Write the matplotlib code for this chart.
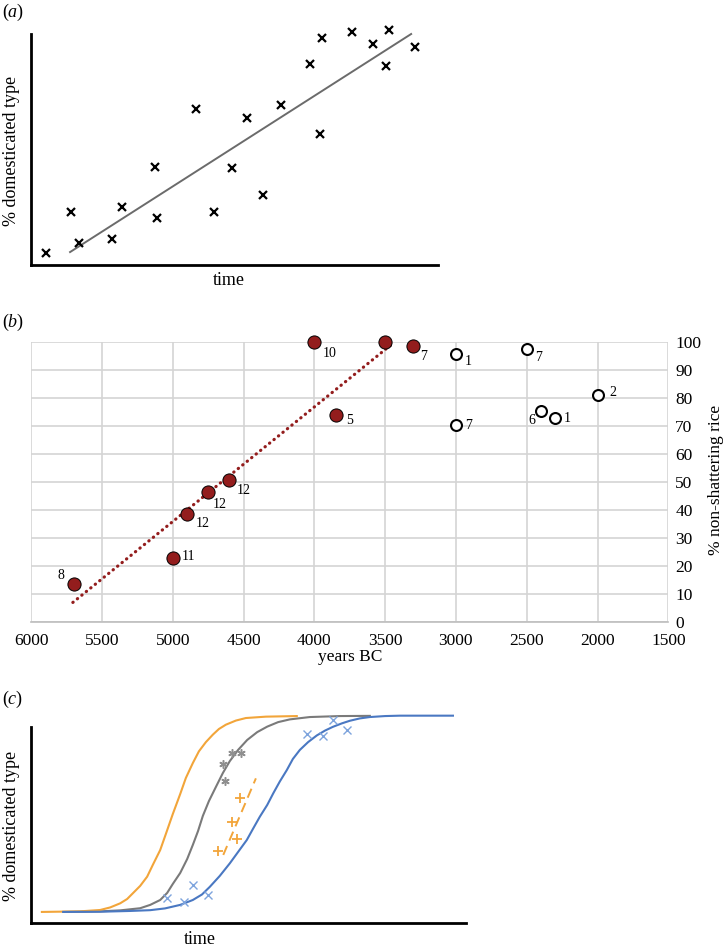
import matplotlib.pyplot as plt

plt.rcParams['font.family'] = ['Liberation Serif', 'DejaVu Serif']
plt.rcParams['mathtext.fontset'] = 'custom'
plt.rcParams['mathtext.it'] = 'Liberation Serif:italic'
plt.rcParams['mathtext.rm'] = 'Liberation Serif'

# ---- panel (a): schematic scatter with a linear trend ----
a_x = [3.7, 9.8, 11.8, 19.9, 22.4, 30.5, 31.0, 40.5, 45.0, 49.4, 53.1,
       57.0, 61.4, 68.6, 71.0, 71.5, 78.9, 84.0, 87.2, 88.0, 94.3]
a_y = [5.2, 23.0, 9.5, 11.3, 25.1, 42.4, 20.3, 67.5, 22.9, 42.0, 63.6,
       30.3, 69.3, 87.0, 56.7, 98.3, 100.9, 95.7, 86.1, 101.7, 94.4]
a_trend_x = [9.6, 93.4]
a_trend_y = [5.6, 100.0]

# ---- panel (b): non-shattering rice by date ----
years_filled = [5700, 5000, 4900, 4750, 4600, 4000, 3850, 3500, 3300]
pct_filled = [13.6, 22.9, 38.6, 46.5, 50.6, 100.0, 74.0, 100.0, 98.7]
labels_filled = ['8', '11', '12', '12', '12', '10', '5', '', '7']
years_open = [3000, 3000, 2500, 2400, 2300, 2000]
pct_open = [95.9, 70.6, 97.7, 75.6, 73.0, 81.3]
labels_open = ['1', '7', '7', '6', '1', '2']
b_trend_x = [5705, 3436]
b_trend_y = [7.0, 100.0]
b_xticks = [6000, 5500, 5000, 4500, 4000, 3500, 3000, 2500, 2000, 1500]
b_yticks = [0, 10, 20, 30, 40, 50, 60, 70, 80, 90, 100]
# label offsets in pixels (right, down)
off_filled = [(-13, -8), (16, -1), (16, 9), (12, 13), (14, 10), (15, 11),
              (14, 5), (0, 0), (10, 11)]
off_open = [(12, 8), (13, 1), (12, 9), (-9, 10), (12, 1), (15, -2)]

# ---- panel (c): sigmoid domestication curves ----
orange_x = [2.5, 11.3, 15.9, 18.2, 20.5, 22.1, 23.4, 25.1, 26.7, 28.0, 29.7,
            31.0, 32.6, 34.3, 35.6, 37.2, 38.6, 40.2, 41.8, 43.2, 44.8, 47.1,
            49.4, 54.0, 61.1]
orange_y = [0, 0.3, 1.0, 2.3, 4.4, 6.6, 9.5, 13.3, 18.0, 24.0, 31.6,
            39.8, 50.0, 60.2, 68.4, 76.0, 82.0, 86.7, 90.5, 93.4, 95.6, 97.7,
            99.0, 99.7, 100]
gray_x = [7.4, 15.9, 20.5, 25.1, 27.4, 29.7, 31.3, 32.6, 34.3, 35.9, 37.2,
          38.4, 39.5, 40.9, 42.5, 44.1, 45.7, 47.6, 49.7, 52.0, 54.3, 56.8,
          59.5, 64.1, 71.0, 77.9]
gray_y = [0, 0.3, 0.8, 1.9, 3.6, 6.1, 9.7, 14.3, 19.9, 27.0, 34.2,
          41.3, 49.0, 56.6, 63.8, 70.9, 77.0, 82.7, 87.8, 91.8, 94.6, 96.9,
          98.3, 99.5, 100, 100.1]
blue_x = [7.4, 15.9, 22.8, 27.4, 30.8, 34.3, 37.2, 39.3, 41.1, 43.4, 45.7,
          47.6, 49.6, 51.0, 52.6, 54.3, 55.7, 57.2, 58.8, 60.2, 61.8, 63.7,
          65.7, 67.6, 69.4, 71.5, 73.3, 75.6, 77.9, 81.4, 84.8, 97.0]
blue_y = [0, 0.1, 0.5, 0.9, 1.8, 3.6, 6.1, 8.9, 12.8, 18.4, 24.8,
          30.6, 36.7, 42.3, 48.6, 54.6, 60.6, 66.6, 72.4, 78.1, 82.7, 86.7,
          90.1, 92.6, 94.5, 96.3, 97.6, 98.8, 99.5, 100.0, 100.2, 100.2]
blue_pts_x = [31.2, 35.1, 37.3, 40.6, 63.4, 67.2, 69.4, 72.7]
blue_pts_y = [7.3, 5.3, 13.6, 8.7, 91.0, 89.6, 97.8, 92.9]
gray_pts_x = [44.1, 44.6, 46.3, 48.3]
gray_pts_y = [75.7, 66.6, 80.9, 80.9]
orange_pts_x = [43.1, 46.1, 47.3, 48.0]
orange_pts_y = [31.3, 45.8, 37.1, 58.3]
orange_dash_x = [44.2, 51.7]
orange_dash_y = [29.1, 68.2]

W, H = 727, 949
fig = plt.figure(figsize=(W / 100, H / 100), dpi=100)

# panel (a)
ax_a = fig.add_axes([31 / W, (H - 265) / H, 407 / W, 240 / H])
ax_a.plot(a_trend_x, a_trend_y, color='#6b6b6b', lw=1.4)
ax_a.plot(a_x, a_y, 'x', color='black', ms=6, mew=1.6, ls='none', clip_on=False)
ax_a.set_xlim(0, 100)
ax_a.set_ylim(0, 103.9)
for s in ['top', 'right']:
    ax_a.spines[s].set_visible(False)
for s in ['left', 'bottom']:
    ax_a.spines[s].set_linewidth(2.0)
ax_a.spines['left'].set_bounds(0, 100)
ax_a.set_xticks([])
ax_a.set_yticks([])
fig.text(229 / W, 1 - 281 / H, 'time', ha='center', va='center', fontsize=13)
fig.text(12 / W, 1 - 151 / H, '% domesticated type', rotation=90,
         ha='center', va='center', fontsize=13)
fig.text(2 / W, 1 - 12 / H, '($a$)', va='center', fontsize=13)

# panel (b)
ax_b = fig.add_axes([31.1 / W, (H - 622) / H, 637.2 / W, 279.7 / H])
ax_b.set_xlim(6000, 1500)
ax_b.set_ylim(0, 100)
ax_b.set_xticks(b_xticks)
ax_b.set_yticks(b_yticks)
ax_b.grid(True, color='#d4d4d4', lw=1.2)
ax_b.set_axisbelow(True)
for s in ['top', 'right', 'left']:
    ax_b.spines[s].set_visible(False)
ax_b.spines['bottom'].set_color('#bdbdbd')
ax_b.spines['bottom'].set_linewidth(1.2)
ax_b.yaxis.tick_right()
ax_b.tick_params(axis='both', length=0, labelsize=12.5)
ax_b.tick_params(axis='x', pad=8)
ax_b.tick_params(axis='y', pad=5)
ax_b.plot(b_trend_x, b_trend_y, color='#931d1d', lw=2.3,
          ls=(0, (0.1, 1.7)), dash_capstyle='round', clip_on=False)
ax_b.scatter(years_filled, pct_filled, s=90, color='#931d1d',
             edgecolor='black', lw=0.7, zorder=3, clip_on=False)
ax_b.scatter(years_open, pct_open, s=62, facecolor='white',
             edgecolor='black', lw=1.5, zorder=3, clip_on=False)
for xx, yy, lab, (dx, dy) in zip(years_filled, pct_filled, labels_filled, off_filled):
    if lab:
        ax_b.annotate(lab, (xx, yy), xytext=(dx * 0.72, -dy * 0.72),
                      textcoords='offset points', ha='center', va='center',
                      fontsize=10)
for xx, yy, lab, (dx, dy) in zip(years_open, pct_open, labels_open, off_open):
    ax_b.annotate(lab, (xx, yy), xytext=(dx * 0.72, -dy * 0.72),
                  textcoords='offset points', ha='center', va='center',
                  fontsize=10)
fig.text(350 / W, 1 - 657 / H, 'years BC', ha='center', va='center', fontsize=12.5)
fig.text(716 / W, 1 - 480 / H, '% non-shattering rice', rotation=90,
         ha='center', va='center', fontsize=12.5)
fig.text(2 / W, 1 - 322 / H, '($b$)', va='center', fontsize=13)

# panel (c)
ax_c = fig.add_axes([31 / W, (H - 923.3) / H, 435 / W, 223.3 / H])
ax_c.set_xlim(0, 100)
ax_c.set_ylim(-5.8, 108.2)
ax_c.plot(gray_x, gray_y, color='#7a7a7a', lw=1.5, solid_joinstyle='round', clip_on=False)
ax_c.plot(orange_x, orange_y, color='#f2a53a', lw=1.5, solid_joinstyle='round', clip_on=False)
ax_c.plot(blue_x, blue_y, color='#4a78c2', lw=1.5, solid_joinstyle='round', clip_on=False)
ax_c.plot(orange_dash_x, orange_dash_y, color='#f2a53a', lw=1.4, ls=(0, (5, 3)))
ax_c.plot(blue_pts_x, blue_pts_y, 'x', color='#7ea4dd', ms=5.5, mew=1.0, ls='none')
ax_c.plot(gray_pts_x, gray_pts_y, marker=(6, 2, 0), color='#8f8f8f', ms=6,
          mew=1.1, ls='none')
ax_c.plot(orange_pts_x, orange_pts_y, '+', color='#f2a53a', ms=7, mew=1.3, ls='none')
for s in ['top', 'right']:
    ax_c.spines[s].set_visible(False)
for s in ['left', 'bottom']:
    ax_c.spines[s].set_linewidth(2.0)
ax_c.spines['left'].set_bounds(-5.8, 94.5)
ax_c.set_xticks([])
ax_c.set_yticks([])
fig.text(200 / W, 1 - 939 / H, 'time', ha='center', va='center', fontsize=13)
fig.text(12 / W, 1 - 826 / H, '% domesticated type', rotation=90,
         ha='center', va='center', fontsize=13)
fig.text(2 / W, 1 - 699 / H, '($c$)', va='center', fontsize=13)

fig.savefig('out.png', dpi=100)
